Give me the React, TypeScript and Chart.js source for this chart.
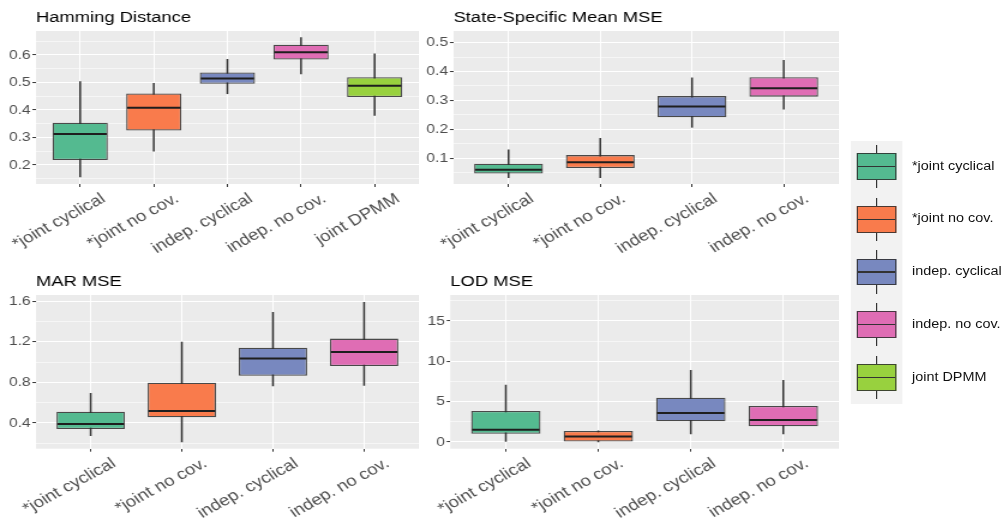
import React, { useEffect, useRef } from 'react';
import { Chart, registerables } from 'chart.js';

Chart.register(...registerables);

// ---------------- data ----------------
const categories = ['*joint cyclical', '*joint no cov.', 'indep. cyclical', 'indep. no cov.', 'joint DPMM'];
const boxColors = ['#54BA90', '#F97B4C', '#7888BF', '#DF6DB4', '#98D13E'];

const hammingMin = [0.157, 0.25, 0.459, 0.531, 0.38];
const hammingQ1 = [0.218, 0.325, 0.495, 0.583, 0.447];
const hammingMedian = [0.313, 0.408, 0.514, 0.61, 0.488];
const hammingQ3 = [0.354, 0.46, 0.536, 0.637, 0.519];
const hammingMax = [0.503, 0.497, 0.584, 0.663, 0.604];
const hammingTicks = [0.2, 0.3, 0.4, 0.5, 0.6];
const hammingTickLabels = ['0.2', '0.3', '0.4', '0.5', '0.6'];
const hammingMinorTicks = [0.15, 0.25, 0.35, 0.45, 0.55, 0.65];

const stateMin = [0.033, 0.033, 0.207, 0.27];
const stateQ1 = [0.047, 0.066, 0.242, 0.313];
const stateMedian = [0.06, 0.086, 0.279, 0.342];
const stateQ3 = [0.081, 0.111, 0.315, 0.38];
const stateMax = [0.129, 0.169, 0.378, 0.439];
const stateTicks = [0.1, 0.2, 0.3, 0.4, 0.5];
const stateTickLabels = ['0.1', '0.2', '0.3', '0.4', '0.5'];
const stateMinorTicks = [0.05, 0.15, 0.25, 0.35, 0.45];

const marMin = [0.275, 0.213, 0.767, 0.771];
const marQ1 = [0.341, 0.456, 0.866, 0.962];
const marMedian = [0.39, 0.518, 1.037, 1.1];
const marQ3 = [0.511, 0.797, 1.142, 1.232];
const marMax = [0.693, 1.198, 1.491, 1.59];
const marTicks = [0.4, 0.8, 1.2, 1.6];
const marTickLabels = ['0.4', '0.8', '1.2', '1.6'];
const marMinorTicks = [0.2, 0.6, 1.0, 1.4];

const lodMin = [0.0, 0.02, 0.99, 0.99];
const lodQ1 = [1.03, 0.06, 2.56, 1.94];
const lodMedian = [1.53, 0.68, 3.59, 2.73];
const lodQ3 = [3.84, 1.36, 5.49, 4.46];
const lodMax = [7.07, 1.4, 8.89, 7.64];
const lodTicks = [0, 5, 10, 15];
const lodTickLabels = ['0', '5', '10', '15'];
const lodMinorTicks = [2.5, 7.5, 12.5, 17.5];

// ---------------- style / layout ----------------
const S = 1.2; // horizontal stretch of the whole figure
const FONT = '"Liberation Sans", Arial, Helvetica, sans-serif';
const OUTLINE = 'rgba(45,45,45,0.85)';
const WHISKER = '#333333';
const MEDIAN = '#1e1e1e';
const PANEL_BG = '#EBEBEB';
const TICK_COL = '#4D4D4D';

type Panel = {
  title: string;
  n: number;
  mins: number[];
  q1: number[];
  med: number[];
  q3: number[];
  maxs: number[];
  yMin: number;
  yMax: number;
  ticks: number[];
  tickLabels: string[];
  minor: number[];
  left: number;
  top: number;
  width: number;
  height: number;
  plotLeft: number;
  plotTop: number;
  plotBottom: number;
};

const v = (realX: number) => realX / S;

const panels: Panel[] = [
  {
    title: 'Hamming Distance', n: 5,
    mins: hammingMin, q1: hammingQ1, med: hammingMedian, q3: hammingQ3, maxs: hammingMax,
    yMin: 0.131, yMax: 0.687, ticks: hammingTicks, tickLabels: hammingTickLabels, minor: hammingMinorTicks,
    left: 0, top: 0, width: v(419.3), height: 262, plotLeft: v(36), plotTop: 31, plotBottom: 184,
  },
  {
    title: 'State-Specific Mean MSE', n: 4,
    mins: stateMin, q1: stateQ1, med: stateMedian, q3: stateQ3, maxs: stateMax,
    yMin: 0.011, yMax: 0.54, ticks: stateTicks, tickLabels: stateTickLabels, minor: stateMinorTicks,
    left: v(414), top: 0, width: v(838.3) - v(414), height: 262, plotLeft: v(453.5), plotTop: 31, plotBottom: 184,
  },
  {
    title: 'MAR MSE', n: 4,
    mins: marMin, q1: marQ1, med: marMedian, q3: marQ3, maxs: marMax,
    yMin: 0.147, yMax: 1.662, ticks: marTicks, tickLabels: marTickLabels, minor: marMinorTicks,
    left: 0, top: 262, width: v(419.3), height: 266, plotLeft: v(36), plotTop: 295, plotBottom: 448.7,
  },
  {
    title: 'LOD MSE', n: 4,
    mins: lodMin, q1: lodQ1, med: lodMedian, q3: lodQ3, maxs: lodMax,
    yMin: -0.83, yMax: 18.22, ticks: lodTicks, tickLabels: lodTickLabels, minor: lodMinorTicks,
    left: v(414), top: 262, width: v(838.3) - v(414), height: 266, plotLeft: v(450.3), plotTop: 295, plotBottom: 448.7,
  },
];

const isIn = (arr: number[], val: number) => arr.findIndex((t) => Math.abs(t - val) < 1e-9);

function BoxPanel({ p }: { p: Panel }) {
  const ref = useRef<HTMLCanvasElement>(null);
  useEffect(() => {
    const cats = categories.slice(0, p.n);
    const idx = cats.map((_, i) => i);
    const bgPlugin = {
      id: 'panelBg',
      beforeDraw(chart: any) {
        const { ctx, chartArea } = chart;
        ctx.save();
        ctx.fillStyle = PANEL_BG;
        ctx.fillRect(chartArea.left, chartArea.top, chartArea.right - chartArea.left, chartArea.bottom - chartArea.top);
        ctx.restore();
      },
    };
    const medianPlugin = {
      id: 'medianLines',
      afterDatasetsDraw(chart: any) {
        const { ctx } = chart;
        const meta = chart.getDatasetMeta(1);
        const yS = chart.scales.y;
        ctx.save();
        ctx.strokeStyle = MEDIAN;
        ctx.lineWidth = 2;
        meta.data.forEach((bar: any, i: number) => {
          const { x, width } = bar.getProps(['x', 'width'], true);
          const py = yS.getPixelForValue(p.med[i]);
          ctx.beginPath();
          ctx.moveTo(x - width / 2 + 0.8, py);
          ctx.lineTo(x + width / 2 - 0.8, py);
          ctx.stroke();
        });
        ctx.restore();
      },
    };
    const titlePlugin = {
      id: 'panelTitle',
      afterDraw(chart: any) {
        const { ctx, chartArea } = chart;
        ctx.save();
        ctx.font = `15.3px ${FONT}`;
        ctx.fillStyle = '#000';
        ctx.textAlign = 'left';
        ctx.textBaseline = 'alphabetic';
        ctx.fillText(p.title, chartArea.left, chartArea.top - 9);
        ctx.restore();
      },
    };
    const chart = new Chart(ref.current as HTMLCanvasElement, {
      type: 'bar',
      data: {
        datasets: [
          {
            label: 'whisker',
            data: idx.map((i) => ({ x: i, y: [p.mins[i], p.maxs[i]] })) as any,
            backgroundColor: WHISKER,
            barThickness: 0.85,
            grouped: false,
            order: 2,
          } as any,
          {
            label: 'box',
            data: idx.map((i) => ({ x: i, y: [p.q1[i], p.q3[i]] })) as any,
            backgroundColor: boxColors.slice(0, p.n),
            borderColor: OUTLINE,
            borderWidth: 1.3,
            borderSkipped: false,
            grouped: false,
            barPercentage: 0.75,
            categoryPercentage: 1,
            order: 1,
          } as any,
        ],
      },
      options: {
        responsive: false,
        animation: false,
        events: [],
        layout: { padding: { top: p.plotTop - p.top, left: 0, right: 0, bottom: 0 } },
        plugins: { legend: { display: false }, tooltip: { enabled: false }, title: { display: false } },
        scales: {
          x: {
            type: 'linear',
            min: -0.6,
            max: p.n - 0.4,
            offset: false,
            afterBuildTicks: (s: any) => {
              s.ticks = idx.map((i) => ({ value: i }));
            },
            afterFit: (s: any) => {
              s.height = p.top + p.height - p.plotBottom;
              s.paddingLeft = 0;
              s.paddingRight = 0;
              s.paddingTop = 0;
              s.paddingBottom = 0;
            },
            ticks: {
              autoSkip: false,
              minRotation: 33,
              maxRotation: 33,
              padding: 2.5,
              labelOffset: 19.5,
              color: TICK_COL,
              font: { family: FONT, size: 15.5 },
              callback: (val: any) => cats[Math.round(Number(val))] ?? '',
            },
            grid: { color: '#FFFFFF', lineWidth: 1, offset: false, tickColor: '#333333', tickLength: 3, tickWidth: 1 },
            border: { display: false },
          },
          y: {
            type: 'linear',
            min: p.yMin,
            max: p.yMax,
            beginAtZero: false,
            afterBuildTicks: (s: any) => {
              s.ticks = [...p.ticks, ...p.minor].sort((a, b) => a - b).map((val) => ({ value: val }));
            },
            afterFit: (s: any) => {
              s.width = p.plotLeft - p.left;
              s.paddingTop = 0;
              s.paddingBottom = 0;
              s.paddingLeft = 0;
              s.paddingRight = 0;
            },
            ticks: {
              autoSkip: false,
              padding: 1.5,
              color: TICK_COL,
              font: { family: FONT, size: 13 },
              callback: (val: any) => {
                const k = isIn(p.ticks, Number(val));
                return k >= 0 ? p.tickLabels[k] : '';
              },
            },
            grid: {
              color: '#FFFFFF',
              lineWidth: (c: any) => (isIn(p.ticks, c.tick?.value) >= 0 ? 1.1 : 0.55),
              tickColor: (c: any) => (isIn(p.ticks, c.tick?.value) >= 0 ? '#333333' : 'rgba(0,0,0,0)'),
              tickLength: 3,
              tickWidth: 1,
            },
            border: { display: false },
          },
        },
      } as any,
      plugins: [bgPlugin, medianPlugin, titlePlugin],
    });
    return () => chart.destroy();
  }, [p]);
  return (
    <canvas
      ref={ref}
      width={Math.round(p.width)}
      height={p.height}
      style={{ position: 'absolute', left: p.left, top: p.top }}
    />
  );
}

const legendTop = 140.7;
const legendHeight = 263.3;
const legendFirstCenter = 166.7;
const legendStep = 52.7;

function Legend() {
  return (
    <>
      <div
        style={{
          position: 'absolute', left: v(850.7), top: legendTop, width: v(902.7) - v(850.7),
          height: legendHeight, background: '#F2F2F2',
        }}
      />
      {categories.map((c, k) => {
        const cy = legendFirstCenter + k * legendStep;
        const bx = v(856.7);
        const bw = v(896.7) - v(856.7);
        return (
          <React.Fragment key={c}>
            <div style={{ position: 'absolute', left: bx + bw / 2 - 0.4, top: cy - 21.7, width: 0.8, height: 43.4, background: WHISKER }} />
            <div
              style={{
                position: 'absolute', left: bx, top: cy - 13.4, width: bw, height: 26.8, boxSizing: 'border-box',
                background: boxColors[k], border: `1.3px solid ${OUTLINE}`,
              }}
            />
            <div style={{ position: 'absolute', left: bx + 1, top: cy - 0.7, width: bw - 2, height: 1.4, background: '#333' }} />
            <div
              style={{
                position: 'absolute', left: v(912), top: cy - 8, height: 16, lineHeight: '16px',
                font: `12px ${FONT}`, color: '#111', whiteSpace: 'nowrap',
              }}
            >
              {c}
            </div>
          </React.Fragment>
        );
      })}
    </>
  );
}

export default function App() {
  return (
    <div style={{ position: 'absolute', left: 0, top: 0, width: 1006, height: 528, background: '#fff', overflow: 'hidden' }}>
      <div
        style={{
          position: 'absolute', left: 0, top: 0, width: 1006 / S, height: 528,
          transform: `scaleX(${S})`, transformOrigin: '0 0',
        }}
      >
        {panels.map((p) => (
          <BoxPanel key={p.title} p={p} />
        ))}
        <Legend />
      </div>
    </div>
  );
}
